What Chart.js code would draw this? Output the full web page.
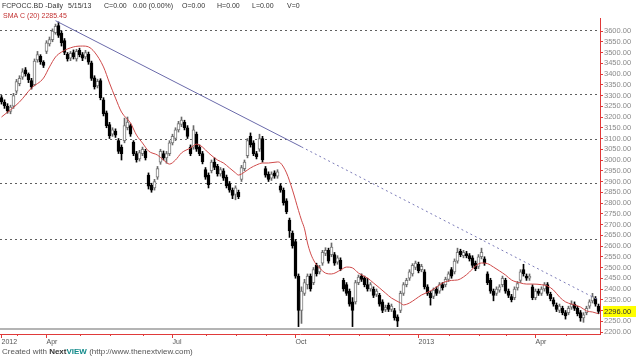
<!DOCTYPE html>
<html>
<head>
<meta charset="utf-8">
<script src="https://cdn.jsdelivr.net/npm/chart.js@4.4.1/dist/chart.umd.min.js"></script>
<style>
html,body{margin:0;padding:0;background:#fff;}
canvas{display:block;}
</style>
</head>
<body>
<canvas id="c" width="640" height="357"></canvas>
<script>
// ---- data ----
const open = [
3290,3268,3250,3226,3250,3320,3355,3385,3420,3398,
3370,3350,3465,3482,3455,3505,3540,3560,3592,3625,
3590,3555,3492,3474,3500,3470,3510,3490,3480,3492,
3452,3382,3345,3370,3280,3220,3165,3120,3135,3090,
3060,3090,3150,3160,3082,3030,3005,3030,3040,2930,
2882,2870,2920,2990,3030,3010,3030,3080,3100,3140,
3165,3175,3150,3060,3060,3120,3060,3030,2955,2930,
2950,2990,2970,2935,2950,2920,2890,2860,2840,2850,
2910,2960,3020,3110,3080,3030,3050,3100,2960,2935,
2915,2940,2925,2880,2860,2810,2720,2660,2620,2460,
2300,2380,2420,2460,2430,2510,2480,2520,2565,2580,
2560,2560,2525,2535,2440,2420,2390,2340,2340,2430,
2460,2450,2420,2400,2400,2375,2370,2340,2305,2325,
2305,2300,2270,2300,2380,2420,2450,2470,2500,2515,
2490,2480,2410,2380,2365,2400,2390,2420,2420,2445,
2490,2480,2530,2575,2555,2565,2555,2545,2520,2505,
2550,2540,2470,2440,2390,2380,2395,2420,2440,2390,
2365,2360,2405,2440,2490,2460,2450,2410,2360,2390,
2380,2400,2420,2375,2350,2325,2300,2310,2290,2290,
2315,2330,2310,2290,2265,2290,2320,2345,2355,2320];
const close = [
3270,3252,3228,3246,3300,3365,3380,3410,3400,3372,
3340,3460,3490,3456,3440,3545,3560,3600,3622,3580,
3545,3500,3470,3496,3480,3505,3490,3474,3500,3455,
3380,3340,3366,3290,3215,3160,3112,3140,3115,3040,
3030,3160,3176,3120,3030,3002,3035,3050,3010,2878,
2860,2900,2960,3040,3010,3030,3080,3110,3140,3170,
3186,3150,3110,3030,3140,3050,3030,2992,2920,2885,
2990,2965,2935,2955,2915,2880,2860,2835,2870,2830,
2965,2990,3090,3070,3030,3015,3100,3000,2930,2910,
2935,2925,2945,2860,2800,2760,2670,2600,2460,2300,
2390,2430,2460,2400,2490,2470,2500,2570,2580,2530,
2595,2520,2545,2495,2400,2380,2330,2300,2430,2455,
2445,2420,2400,2420,2370,2390,2330,2300,2315,2305,
2320,2265,2250,2380,2420,2440,2480,2510,2520,2485,
2505,2410,2380,2360,2395,2380,2420,2405,2445,2470,
2460,2530,2570,2560,2570,2555,2540,2510,2495,2550,
2570,2520,2430,2390,2370,2400,2410,2450,2390,2370,
2350,2400,2425,2480,2470,2450,2460,2360,2390,2380,
2400,2420,2380,2355,2330,2305,2320,2290,2275,2310,
2330,2310,2285,2265,2280,2310,2340,2365,2330,2296];
const high = [
3300,3280,3262,3255,3310,3375,3392,3425,3430,3405,
3380,3470,3505,3490,3462,3555,3572,3610,3632,3642,
3600,3565,3500,3505,3512,3515,3520,3500,3510,3502,
3460,3392,3376,3378,3290,3228,3175,3150,3145,3100,
3070,3195,3200,3168,3090,3040,3045,3060,3050,2940,
2892,2910,2970,3050,3042,3040,3090,3120,3150,3180,
3200,3185,3160,3070,3160,3130,3070,3040,2965,2940,
3000,3010,2980,2965,2960,2930,2900,2870,2880,2860,
2975,3000,3100,3126,3090,3040,3120,3110,2970,2945,
2945,2950,2955,2890,2870,2820,2730,2670,2630,2470,
2410,2445,2470,2470,2500,2520,2510,2580,2592,2590,
2614,2570,2555,2545,2450,2430,2400,2360,2440,2465,
2470,2460,2450,2430,2410,2400,2380,2350,2325,2335,
2330,2310,2280,2390,2430,2450,2490,2518,2530,2525,
2515,2490,2420,2390,2405,2410,2430,2430,2455,2480,
2500,2540,2590,2585,2580,2575,2565,2555,2530,2560,
2590,2550,2480,2450,2400,2410,2420,2460,2450,2400,
2375,2410,2435,2490,2515,2470,2470,2420,2400,2400,
2410,2430,2430,2385,2360,2335,2330,2320,2300,2320,
2345,2340,2320,2300,2290,2320,2350,2380,2365,2330];
const low = [
3260,3240,3218,3215,3240,3310,3345,3375,3390,3360,
3330,3345,3455,3445,3430,3495,3530,3550,3585,3570,
3530,3490,3460,3462,3470,3460,3480,3462,3470,3445,
3370,3330,3335,3280,3205,3150,3100,3110,3105,3030,
3000,3080,3140,3110,3020,2990,2995,3020,3000,2865,
2850,2860,2910,2980,3000,2985,3020,3070,3090,3130,
3155,3140,3100,3020,3050,3040,3020,2982,2910,2870,
2940,2955,2925,2925,2905,2870,2850,2820,2815,2820,
2900,2950,3010,3060,3020,3005,3040,2990,2920,2900,
2905,2915,2915,2850,2790,2750,2640,2590,2450,2225,
2240,2370,2400,2390,2420,2460,2470,2510,2555,2520,
2550,2510,2515,2485,2390,2370,2320,2225,2330,2420,
2435,2410,2390,2390,2360,2365,2320,2290,2295,2295,
2295,2255,2225,2290,2370,2410,2440,2460,2490,2475,
2480,2400,2370,2325,2355,2370,2380,2395,2410,2435,
2450,2470,2520,2550,2545,2545,2530,2500,2485,2495,
2540,2510,2420,2380,2345,2370,2385,2410,2380,2360,
2340,2350,2395,2430,2460,2440,2440,2350,2350,2370,
2370,2390,2370,2345,2320,2295,2290,2280,2260,2280,
2305,2300,2275,2250,2245,2280,2310,2335,2320,2285];

// SMA C(20) (bar index, value)
const smaIdx = [0,6,10,14,16,18,20,24,27,29,31,34,36,38,40,43,45,47,49,52,54,56,58,60,63,65,67,69,72,74,76,78,79,81,83,85,87,89,92,93,95,97,99,100,101,102,103,104,105,106,108,110,113,115,117,119,122,124,126,128,130,133,134,136,138,140,143,145,147,150,152,154,156,158,160,162,164,166,168,170,173,175,177,180,182,184,186,188,190,193,195,197,199];
const smaVal = [3200,3270,3335,3381,3433,3479,3502,3526,3530,3526,3502,3433,3358,3288,3223,3172,3116,3079,3042,3023,3000,2981,3000,3033,3056,3074,3060,3033,3000,2986,2963,2940,2930,2944,2963,2977,2986,2986,2991,2986,2940,2860,2765,2720,2680,2614,2567,2535,2512,2498,2474,2470,2488,2502,2498,2474,2451,2428,2405,2381,2358,2335,2326,2335,2353,2372,2391,2409,2428,2440,2442,2456,2479,2507,2521,2518,2502,2484,2465,2442,2428,2423,2423,2420,2414,2395,2363,2340,2330,2316,2298,2293,2285];

// Trend line (solid, then dotted extension)
const trendIdx = [18, 100, 199];
const trendVal = [3648, 3061, 2349];

// Horizontal dashed levels and bottom frame line
const hLines = [3605, 3305, 3100, 2893, 2633];
const frameLine = 2214;

// Axis ticks
const yTicks = [2200,2250,2300,2350,2400,2450,2500,2550,2600,2650,2700,2750,2800,2850,2900,2950,3000,3050,3100,3150,3200,3250,3300,3350,3400,3450,3500,3550,3600];
const xTickIdx = [0, 15, 57, 98, 139, 178];
const xTickText = ['2012', 'Apr', 'Jul', 'Oct', '2013', 'Apr'];
const xMinorIdx = [5, 26, 36, 47, 68, 78, 88, 109, 119, 129, 149, 159, 168, 188];

const lastClose = 2296;
const smaLast = '2285.45';

// ---- chart ----
const N = open.length;
const cats = Array.from({length: N}, (_, i) => i);
const isUp = i => close[i] >= open[i];
const RED = '#e03a3a';

const overlay = {
  id: 'overlay',
  beforeDatasetsDraw(chart) {
    const {ctx, chartArea: a, scales: {y}} = chart;
    ctx.save();
    ctx.strokeStyle = '#606060';
    ctx.lineWidth = 1;
    ctx.setLineDash([2, 3]);
    hLines.forEach(v => {
      const py = Math.round(y.getPixelForValue(v)) + 0.5;
      ctx.beginPath(); ctx.moveTo(a.left, py); ctx.lineTo(a.right, py); ctx.stroke();
    });
    ctx.setLineDash([]);
    ctx.strokeStyle = '#b4b4b4';
    ctx.lineWidth = 2;
    const fy = Math.round(y.getPixelForValue(frameLine));
    ctx.beginPath(); ctx.moveTo(a.left, fy); ctx.lineTo(a.right, fy); ctx.stroke();
    ctx.restore();
  },
  afterDraw(chart) {
    const {ctx, chartArea: a, scales: {x, y}} = chart;
    ctx.save();
    // minor x ticks
    ctx.strokeStyle = RED; ctx.lineWidth = 1;
    xMinorIdx.forEach(i => {
      const px = Math.round(x.getPixelForValue(i)) + 0.5;
      ctx.beginPath(); ctx.moveTo(px, a.bottom); ctx.lineTo(px, a.bottom + 2); ctx.stroke();
    });
    // header
    ctx.font = '7px "Liberation Sans"';
    ctx.textBaseline = 'alphabetic';
    ctx.fillStyle = '#333';
    const hdr = [['FCPOCC.BD -Daily', 2], ['5/15/13', 68], ['C=0.00', 104], ['0.00 (0.00%)', 133],
                 ['O=0.00', 182], ['H=0.00', 217], ['L=0.00', 252], ['V=0', 287]];
    hdr.forEach(([t, px]) => ctx.fillText(t, px, 8));
    ctx.fillStyle = '#c23030';
    ctx.fillText('SMA C (20) ' + smaLast, 3, 18);
    // last price tag
    const ly = y.getPixelForValue(lastClose);
    ctx.fillStyle = '#ffff00';
    ctx.fillRect(a.right + 3, Math.round(ly) - 5, 33, 11);
    ctx.fillStyle = '#333';
    ctx.font = '7.5px "Liberation Sans"';
    ctx.textBaseline = 'middle';
    ctx.fillText(lastClose.toFixed(2), a.right + 4, ly + 0.5);
    // footer
    ctx.textBaseline = 'alphabetic';
    let fx = 2; const fyy = 354;
    ctx.font = '8px "Liberation Sans"';
    ctx.fillStyle = '#555';
    ctx.fillText('Created with ', fx, fyy); fx += ctx.measureText('Created with ').width;
    ctx.font = 'bold 8px "Liberation Sans"';
    ctx.fillStyle = '#333';
    ctx.fillText('Next', fx, fyy); fx += ctx.measureText('Next').width;
    ctx.fillStyle = '#118a8a';
    ctx.fillText('VIEW', fx, fyy); fx += ctx.measureText('VIEW').width;
    ctx.font = '8px "Liberation Sans"';
    ctx.fillStyle = '#555';
    ctx.fillText(' (http://www.thenextview.com)', fx, fyy);
    ctx.restore();
  }
};

new Chart(document.getElementById('c'), {
  data: {
    labels: cats,
    datasets: [
      {
        type: 'line',
        data: trendIdx.map((v, i) => ({x: v, y: trendVal[i]})),
        borderColor: '#6a6aaa',
        borderWidth: 1,
        pointRadius: 0,
        segment: {
          borderDash: c => c.p0DataIndex === 1 ? [2, 3] : undefined,
          borderColor: c => c.p0DataIndex === 1 ? '#7c7cb8' : '#6a6aaa'
        },
        order: 0
      },
      {
        type: 'line',
        data: smaIdx.map((v, i) => ({x: v, y: smaVal[i]})),
        borderColor: '#cf4a4a',
        borderWidth: 1,
        pointRadius: 0,
        cubicInterpolationMode: 'monotone',
        order: 1
      },
      {
        type: 'bar',
        data: open.map((o, i) => [o, close[i]]),
        backgroundColor: open.map((o, i) => isUp(i) ? '#ffffff' : '#000000'),
        borderColor: open.map((o, i) => isUp(i) ? '#7a7a7a' : '#000000'),
        borderWidth: 1,
        borderSkipped: false,
        barThickness: 3,
        grouped: false,
        order: 2
      },
      {
        type: 'bar',
        data: low.map((l, i) => [l, high[i]]),
        backgroundColor: open.map((o, i) => isUp(i) ? '#6a6a6a' : '#000000'),
        borderWidth: 0,
        barThickness: 1,
        grouped: false,
        order: 3
      }
    ]
  },
  options: {
    responsive: false,
    animation: false,
    devicePixelRatio: 1,
    layout: {padding: {top: 18, left: 0, right: 0, bottom: 11}},
    plugins: {legend: {display: false}, tooltip: {enabled: false}},
    scales: {
      x: {
        type: 'category',
        offset: true,
        grid: {display: true, drawOnChartArea: false, drawTicks: true, tickLength: 4, color: RED, tickColor: RED, offset: false},
        border: {display: true, color: RED, width: 1},
        afterBuildTicks: s => { s.ticks = xTickIdx.map(v => ({value: v})); },
        afterFit: s => { s.height = 12; },
        ticks: {
          autoSkip: false, maxRotation: 0, minRotation: 0, align: 'start', padding: 0,
          color: '#555', font: {family: 'Liberation Sans', size: 7},
          callback: (v, i) => xTickText[i]
        }
      },
      y: {
        type: 'linear',
        position: 'right',
        min: 2190.7,
        max: 3660.5,
        bounds: 'data',
        grid: {display: true, drawOnChartArea: false, drawTicks: true, tickLength: 3, color: RED, tickColor: RED},
        border: {display: true, color: RED, width: 1},
        afterBuildTicks: s => { s.ticks = yTicks.map(v => ({value: v})); },
        afterFit: s => { s.width = 40; },
        ticks: {
          autoSkip: false, padding: 1,
          color: '#8a8a8a', font: {family: 'Liberation Sans', size: 7.5},
          callback: v => Number(v).toFixed(2)
        }
      }
    }
  },
  plugins: [overlay]
});
</script>
</body>
</html>
